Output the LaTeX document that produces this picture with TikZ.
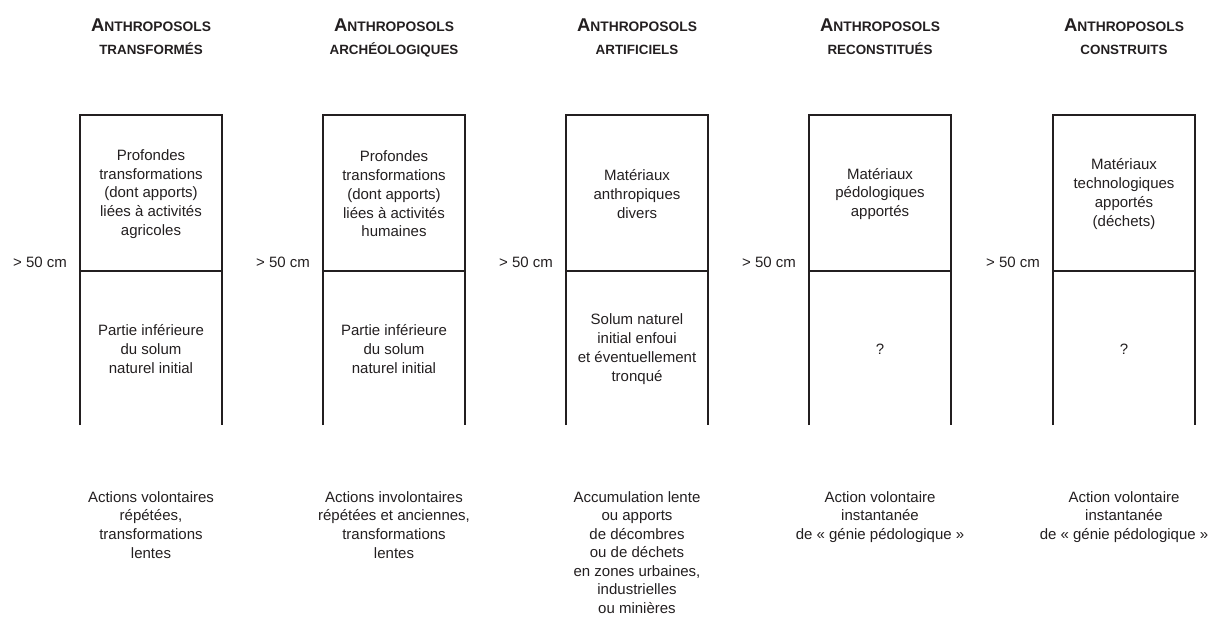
\documentclass[tikz,border=0pt]{standalone}
\usepackage{fontspec}
\setmainfont{Liberation Sans}
\definecolor{ink}{HTML}{231F20}
\tikzset{
  body/.style={align=center, text=ink, inner sep=0pt, font=\fontsize{15}{18.75}\selectfont},
  ttl/.style={align=center, text=ink, inner sep=0pt, anchor=base, font=\bfseries},
  wall/.style={line width=1.7pt, draw=ink},
  depth/.style={text=ink, inner sep=0pt, font=\fontsize{15}{18}\selectfont},
}
\newcommand{\firstline}{{\fontsize{18.5}{18}\selectfont A}{\fontsize{13.8}{14}\selectfont NTHROPOSOLS}}
\newcommand{\secline}[1]{{\fontsize{13.4}{14}\selectfont #1}}
\begin{document}
\begin{tikzpicture}[x=1pt,y=-1pt]
\useasboundingbox (0,0) rectangle (1218,617);
% columns: centres 151, 394, 637, 880, 1124
\foreach \c/\n in {151/1,394/2,637/3,880/4,1124/5}{
  \coordinate (tl\n) at (\c-71,115);
  \coordinate (tr\n) at (\c+71,115);
  \coordinate (ml\n) at (\c-71,271);
  \coordinate (mr\n) at (\c+71,271);
  \coordinate (bl\n) at (\c-71,425);
  \coordinate (br\n) at (\c+71,425);
  \draw[wall] (bl\n) -- (tl\n) -- (tr\n) -- (br\n);
  \draw[wall] (ml\n) -- (mr\n);
  \node[depth] (d\n) at (\c-111,262) {> 50 cm};
  \node[ttl] (ta\n) at (\c,31.5) {\firstline};
}
\node[ttl] (tb1) at (151,55) {\secline{TRANSFORMÉS}};
\node[ttl] (tb2) at (394,55) {\secline{ARCHÉOLOGIQUES}};
\node[ttl] (tb3) at (637,55) {\secline{ARTIFICIELS}};
\node[ttl] (tb4) at (880,55) {\secline{RECONSTITUÉS}};
\node[ttl] (tb5) at (1124,55) {\secline{CONSTRUITS}};
% upper horizons
\node[body] (u1) at (151,194) {Profondes\\transformations\\(dont apports)\\liées à activités\\agricoles};
\node[body] (u2) at (394,194) {Profondes\\transformations\\(dont apports)\\liées à activités\\humaines};
\node[body] (u3) at (637,194) {Matériaux\\anthropiques\\divers};
\node[body] (u4) at (880,194) {Matériaux\\pédologiques\\apportés};
\node[body] (u5) at (1124,194) {Matériaux\\technologiques\\apportés\\(déchets)};
% lower horizons
\node[body] (l1) at (151,349) {Partie inférieure\\du solum\\naturel initial};
\node[body] (l2) at (394,349) {Partie inférieure\\du solum\\naturel initial};
\node[body] (l3) at (637,349) {Solum naturel\\initial enfoui\\et éventuellement\\tronqué};
\node[body] (l4) at (880,349) {?};
\node[body] (l5) at (1124,349) {?};
% processes
\node[body, anchor=north] (p1) at (151,491) {Actions volontaires\\répétées,\\transformations\\lentes};
\node[body, anchor=north] (p2) at (394,491) {Actions involontaires\\répétées et anciennes,\\transformations\\lentes};
\node[body, anchor=north, font=\fontsize{15}{18.5}\selectfont] (p3) at (637,491) {Accumulation lente\\ou apports\\de décombres\\ou de déchets\\en zones urbaines,\\industrielles\\ou minières};
\node[body, anchor=north] (p4) at (880,491) {Action volontaire\\instantanée\\de « génie pédologique »};
\node[body, anchor=north] (p5) at (1124,491) {Action volontaire\\instantanée\\de « génie pédologique »};
\end{tikzpicture}
\end{document}
